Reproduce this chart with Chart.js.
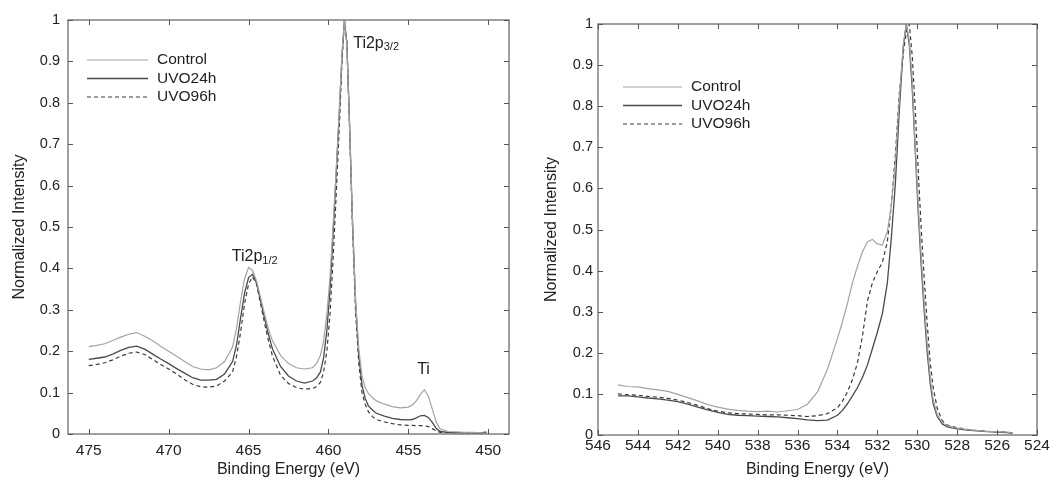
<!DOCTYPE html>
<html>
<head>
<meta charset="utf-8">
<script src="https://cdn.jsdelivr.net/npm/chart.js@4/dist/chart.umd.min.js"></script>
<style>
  body { margin: 0; background: #fff; }
  .box { position: absolute; top: 0; height: 480px; }
</style>
</head>
<body>
<div class="box" style="left:0;width:530px"><canvas id="chartTi" width="530" height="480"></canvas></div>
<div class="box" style="left:530px;width:529px"><canvas id="chartO" width="529" height="480"></canvas></div>
<script>
// Ti 2p region
var tiEnergy = [475, 474.5, 474, 473.5, 473, 472.5, 472, 471.5, 471, 470.5, 470, 469.5, 469, 468.5, 468, 467.5, 467, 466.5, 466, 465.75,
  465.5, 465.25, 465, 464.75, 464.5, 464.25, 464, 463.75, 463.5, 463, 462.5, 462, 461.5, 461, 460.75, 460.5, 460.3, 460.1, 459.9, 459.7,
  459.5, 459.3, 459.15, 459, 458.85, 458.7, 458.5, 458.3, 458.1, 457.9, 457.7, 457.5, 457.25, 457, 456.5, 456, 455.5, 455, 454.75, 454.5,
  454.25, 454, 453.75, 453.5, 453.25, 453, 452.5, 452, 451.5, 451, 450.5, 450.1];
var tiControl = [0.211, 0.214, 0.218, 0.226, 0.234, 0.241, 0.245, 0.236, 0.225, 0.212, 0.200, 0.188, 0.175, 0.163, 0.157, 0.155, 0.160, 0.175, 0.210, 0.255,
  0.320, 0.375, 0.402, 0.395, 0.370, 0.330, 0.290, 0.252, 0.225, 0.190, 0.170, 0.160, 0.157, 0.160, 0.170, 0.190, 0.225, 0.290, 0.380, 0.510,
  0.650, 0.800, 0.920, 1.000, 0.940, 0.770, 0.520, 0.320, 0.205, 0.140, 0.112, 0.098, 0.088, 0.080, 0.072, 0.066, 0.063, 0.065, 0.070, 0.080,
  0.095, 0.107, 0.092, 0.060, 0.028, 0.012, 0.006, 0.005, 0.004, 0.004, 0.003, 0.006];
var tiUvo24 = [0.180, 0.183, 0.186, 0.193, 0.202, 0.209, 0.212, 0.205, 0.193, 0.181, 0.170, 0.158, 0.147, 0.136, 0.130, 0.130, 0.132, 0.145, 0.175, 0.215,
  0.280, 0.340, 0.378, 0.386, 0.365, 0.322, 0.280, 0.240, 0.205, 0.163, 0.140, 0.128, 0.123, 0.128, 0.135, 0.150, 0.185, 0.250, 0.350, 0.490,
  0.640, 0.790, 0.915, 1.000, 0.945, 0.775, 0.520, 0.315, 0.190, 0.118, 0.086, 0.068, 0.058, 0.050, 0.043, 0.038, 0.035, 0.034, 0.035, 0.039,
  0.044, 0.045, 0.040, 0.028, 0.013, 0.006, 0.004, 0.003, 0.003, 0.002, 0.002, 0.004];
var tiUvo96 = [0.165, 0.168, 0.172, 0.179, 0.188, 0.195, 0.198, 0.192, 0.180, 0.168, 0.157, 0.145, 0.131, 0.120, 0.114, 0.113, 0.116, 0.128, 0.150, 0.188,
  0.245, 0.315, 0.362, 0.380, 0.362, 0.315, 0.268, 0.225, 0.188, 0.142, 0.122, 0.112, 0.108, 0.110, 0.114, 0.125, 0.150, 0.200, 0.290, 0.430,
  0.590, 0.760, 0.900, 0.998, 0.950, 0.770, 0.505, 0.295, 0.170, 0.100, 0.072, 0.054, 0.042, 0.035, 0.029, 0.025, 0.022, 0.021, 0.021, 0.020,
  0.020, 0.020, 0.018, 0.013, 0.007, 0.004, 0.003, 0.003, 0.002, 0.002, 0.002, 0.003];
var tiTicks = [475, 470, 465, 460, 455, 450];

// O 1s region
var oEnergy = [545, 544.5, 544, 543.5, 543, 542.5, 542, 541.5, 541, 540.5, 540, 539.5, 539, 538.5, 538, 537.5, 537, 536.5, 536, 535.5,
  535, 534.5, 534, 533.75, 533.5, 533.25, 533, 532.75, 532.5, 532.25, 532, 531.75, 531.5, 531.3, 531.1, 530.9, 530.7, 530.55, 530.4, 530.25,
  530.1, 529.95, 529.8, 529.65, 529.5, 529.35, 529.2, 529, 528.75, 528.5, 528, 527.5, 527, 526.5, 526, 525.5, 525.2];
var oControl = [0.122, 0.118, 0.117, 0.113, 0.110, 0.106, 0.099, 0.091, 0.083, 0.074, 0.068, 0.063, 0.060, 0.058, 0.057, 0.058, 0.056, 0.059, 0.062, 0.075,
  0.105, 0.160, 0.235, 0.275, 0.320, 0.370, 0.410, 0.445, 0.470, 0.476, 0.465, 0.462, 0.495, 0.560, 0.660, 0.820, 0.950, 1.000, 0.960, 0.860,
  0.700, 0.560, 0.430, 0.320, 0.220, 0.140, 0.085, 0.050, 0.030, 0.022, 0.017, 0.013, 0.011, 0.009, 0.008, 0.007, 0.004];
var oUvo24 = [0.095, 0.095, 0.093, 0.090, 0.088, 0.085, 0.081, 0.075, 0.068, 0.061, 0.055, 0.050, 0.048, 0.047, 0.046, 0.045, 0.044, 0.042, 0.040, 0.037,
  0.035, 0.036, 0.048, 0.060, 0.076, 0.095, 0.115, 0.140, 0.170, 0.210, 0.250, 0.295, 0.370, 0.480, 0.610, 0.790, 0.945, 1.000, 0.950, 0.840,
  0.690, 0.540, 0.410, 0.300, 0.200, 0.125, 0.075, 0.045, 0.027, 0.020, 0.015, 0.012, 0.010, 0.008, 0.007, 0.006, 0.004];
var oUvo96 = [0.100, 0.098, 0.097, 0.094, 0.092, 0.089, 0.085, 0.079, 0.072, 0.064, 0.058, 0.054, 0.052, 0.051, 0.050, 0.049, 0.049, 0.048, 0.047, 0.045,
  0.047, 0.052, 0.066, 0.082, 0.105, 0.135, 0.175, 0.240, 0.325, 0.370, 0.398, 0.420, 0.470, 0.560, 0.680, 0.830, 0.930, 0.980, 1.000, 0.920,
  0.790, 0.640, 0.500, 0.380, 0.270, 0.175, 0.115, 0.065, 0.035, 0.024, 0.018, 0.014, 0.011, 0.009, 0.008, 0.007, 0.004];
var oTicks = [546, 544, 542, 540, 538, 536, 534, 532, 530, 528, 526, 524];

var seriesNames = ['Control', 'UVO24h', 'UVO96h'];
var yTicks = [0, 0.1, 0.2, 0.3, 0.4, 0.5, 0.6, 0.7, 0.8, 0.9, 1];

var fontFam = 'Arial, "Liberation Sans", sans-serif';

function pts(xs, ys) {
  return xs.map(function (x, i) { return { x: x, y: ys[i] }; });
}

function makeSets(xs, a, b, c) {
  return [
    { label: seriesNames[0], data: pts(xs, a), borderColor: '#a3a3a3', borderWidth: 1.2 },
    { label: seriesNames[1], data: pts(xs, b), borderColor: '#4a4a4a', borderWidth: 1.3 },
    { label: seriesNames[2], data: pts(xs, c), borderColor: '#3a3a3a', borderWidth: 1.2, borderDash: [4, 3] }
  ].map(function (d) { d.pointRadius = 0; d.fill = false; d.tension = 0; return d; });
}

// frame with inward ticks on all four sides
var frameTicks = {
  id: 'frameTicks',
  afterDraw: function (chart) {
    var ctx = chart.ctx, a = chart.chartArea, sx = chart.scales.x, sy = chart.scales.y;
    ctx.save();
    ctx.strokeStyle = '#808080';
    ctx.lineWidth = 1.5;
    ctx.strokeRect(a.left, a.top, a.right - a.left, a.bottom - a.top);
    ctx.strokeStyle = '#555';
    ctx.lineWidth = 1;
    ctx.beginPath();
    sx.ticks.forEach(function (t) {
      var px = Math.round(sx.getPixelForValue(t.value)) + 0.5;
      ctx.moveTo(px, a.bottom); ctx.lineTo(px, a.bottom - 5);
      ctx.moveTo(px, a.top); ctx.lineTo(px, a.top + 5);
    });
    sy.ticks.forEach(function (t) {
      var py = Math.round(sy.getPixelForValue(t.value)) + 0.5;
      ctx.moveTo(a.left, py); ctx.lineTo(a.left + 5, py);
      ctx.moveTo(a.right, py); ctx.lineTo(a.right - 5, py);
    });
    ctx.stroke();
    ctx.restore();
  }
};

// legend drawn inside the plot
var boxLegend = {
  id: 'boxLegend',
  afterDraw: function (chart, args, opts) {
    var ctx = chart.ctx;
    ctx.save();
    ctx.font = '15.5px ' + fontFam;
    ctx.textBaseline = 'middle';
    ctx.fillStyle = '#222';
    chart.data.datasets.forEach(function (ds, i) {
      var y = opts.y + i * opts.dy;
      ctx.strokeStyle = ds.borderColor;
      ctx.lineWidth = ds.borderWidth;
      ctx.setLineDash(ds.borderDash || []);
      ctx.beginPath();
      ctx.moveTo(opts.x, y); ctx.lineTo(opts.x + opts.len, y);
      ctx.stroke();
      ctx.setLineDash([]);
      ctx.fillText(ds.label, opts.x + opts.len + 9, y);
    });
    ctx.restore();
  }
};

// peak labels with subscripts, placed through the scales
var peakLabels = {
  id: 'peakLabels',
  afterDraw: function (chart, args, opts) {
    var ctx = chart.ctx, sx = chart.scales.x, sy = chart.scales.y;
    ctx.save();
    ctx.fillStyle = '#222';
    ctx.textBaseline = 'middle';
    (opts.items || []).forEach(function (it) {
      var px = sx.getPixelForValue(it.x), py = sy.getPixelForValue(it.y);
      ctx.font = '16px ' + fontFam;
      ctx.fillText(it.main, px, py);
      if (it.sub) {
        var w = ctx.measureText(it.main).width;
        ctx.font = '11px ' + fontFam;
        ctx.fillText(it.sub, px + w, py + 4);
      }
    });
    ctx.restore();
  }
};

function makeChart(id, sets, xMin, xMax, xTickVals, pad, legendPos, labels, tune) {
  return new Chart(document.getElementById(id), {
    type: 'line',
    data: { datasets: sets },
    plugins: [frameTicks, boxLegend, peakLabels],
    options: {
      responsive: false,
      animation: false,
      devicePixelRatio: 1,
      layout: { padding: pad },
      plugins: {
        legend: { display: false },
        tooltip: { enabled: false },
        boxLegend: legendPos,
        peakLabels: { items: labels }
      },
      scales: {
        x: {
          type: 'linear', reverse: true, min: xMin, max: xMax,
          afterBuildTicks: function (s) { s.ticks = xTickVals.map(function (v) { return { value: v }; }); },
          afterFit: function (s) { s.height = 480 - pad.top - tune.plotH; },
          grid: { display: false, drawTicks: false },
          border: { display: false },
          ticks: { color: '#222', padding: tune.xPad, maxRotation: 0, font: { size: 15.5, family: fontFam } },
          title: { display: true, text: 'Binding Energy (eV)', color: '#222', padding: { top: 0, bottom: 1 }, font: { size: 16, family: fontFam } }
        },
        y: {
          min: 0, max: 1,
          afterBuildTicks: function (s) { s.ticks = yTicks.map(function (v) { return { value: v }; }); },
          afterFit: function (s) { s.width = 68; },
          grid: { display: false, drawTicks: false },
          border: { display: false },
          ticks: {
            color: '#222', padding: tune.yPad, font: { size: 14.5, family: fontFam },
            callback: function (v) { return String(Math.round(v * 10) / 10); }
          },
          title: { display: true, text: 'Normalized Intensity', color: '#222', padding: { top: tune.yTitle, bottom: 0 }, font: { size: 16, family: fontFam } }
        }
      }
    }
  });
}

makeChart('chartTi', makeSets(tiEnergy, tiControl, tiUvo24, tiUvo96), 448.7, 476.3, tiTicks,
  { top: 20, right: 21, left: 0, bottom: 0 },
  { x: 87, y: 60, dy: 18.5, len: 61 },
  [{ x: 458.45, y: 0.944, main: 'Ti2p', sub: '3/2' },
   { x: 466.05, y: 0.428, main: 'Ti2p', sub: '1/2' },
   { x: 454.45, y: 0.155, main: 'Ti' }],
  { plotH: 414, xPad: 7, yPad: 8, yTitle: 10 });

makeChart('chartO', makeSets(oEnergy, oControl, oUvo24, oUvo96), 524, 546, oTicks,
  { top: 24, right: 22, left: 0, bottom: 0 },
  { x: 93, y: 87, dy: 18.5, len: 59 },
  [],
  { plotH: 411, xPad: 1, yPad: 5, yTitle: 12 });
</script>
</body>
</html>
